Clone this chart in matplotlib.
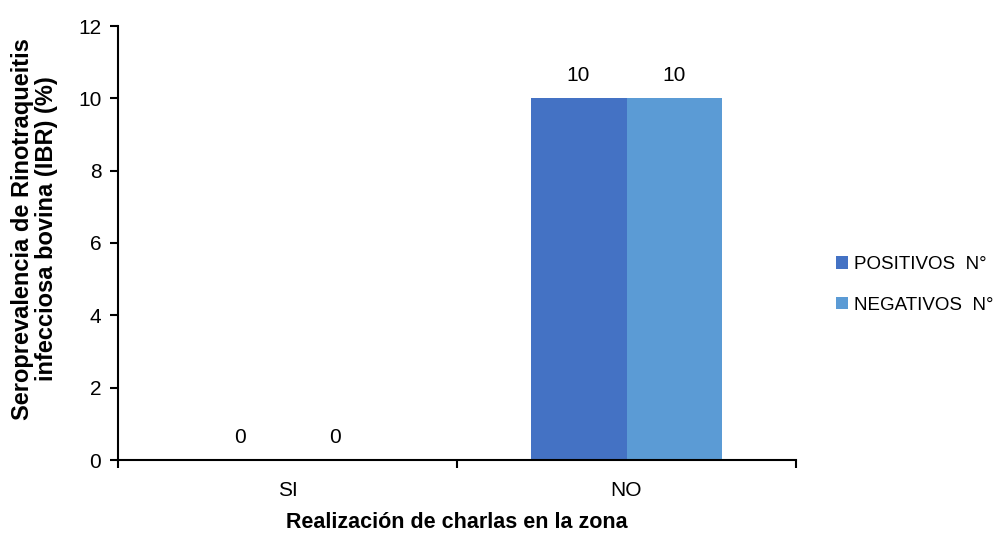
import matplotlib
matplotlib.use("Agg")
import matplotlib.pyplot as plt
import numpy as np

categories = ["SI", "NO"]
positivos = [0, 10]
negativos = [0, 10]
series_names = ["POSITIVOS  N°", "NEGATIVOS  N°"]
colors = ["#4472C4", "#5B9BD5"]

plt.rcParams['font.family'] = ['Liberation Sans', 'DejaVu Sans']

fig = plt.figure(figsize=(10.05, 5.35), dpi=100)
ax = fig.add_axes([118/1005, 1 - 460/535, (796-118)/1005, (460-26)/535])

x = np.arange(len(categories))
w = 0.283
b1 = ax.bar(x - w/2, positivos, w, color=colors[0], label=series_names[0])
b2 = ax.bar(x + w/2, negativos, w, color=colors[1], label=series_names[1])

for bars, vals in ((b1, positivos), (b2, negativos)):
    for r, v in zip(bars, vals):
        ax.text(r.get_x() + r.get_width()/2, v + 0.36, f"{v}", ha="center", va="bottom", fontsize=15)

ax.set_xlim(-0.5, 1.5)
ax.set_ylim(0, 12)
ax.set_yticks(range(0, 13, 2))
ax.set_xticks(x)
ax.set_xticklabels(categories)
ax.set_xticks([-0.5, 0.5, 1.5], minor=True)
ax.tick_params(axis="x", which="major", length=0, labelsize=15, pad=15)
ax.tick_params(axis="x", which="minor", length=6, width=1.5, direction="out")
ax.tick_params(axis="y", length=6, width=1.5, direction="out", labelsize=15, pad=6)

for s in ("top", "right"):
    ax.spines[s].set_visible(False)
for s in ("left", "bottom"):
    ax.spines[s].set_linewidth(1.5)

ax.set_xlabel("Realización de charlas en la zona", fontsize=15.5, fontweight="bold", labelpad=9)
ax.set_ylabel("Seroprevalencia de Rinotraqueitis\ninfecciosa bovina (IBR) (%)", fontsize=17,
              fontweight="bold", linespacing=1.05)
ax.yaxis.set_label_coords(-0.088, 0.532)

leg = fig.legend(handles=[b1, b2], labels=series_names, loc="center left",
                 bbox_to_anchor=(836/1005, 1 - 285/535), bbox_transform=fig.transFigure,
                 frameon=False, fontsize=13.5, borderpad=0, borderaxespad=0,
                 handlelength=0.65, handleheight=0.65, handletextpad=0.3, labelspacing=1.25)

fig.savefig("out.png", dpi=100)
